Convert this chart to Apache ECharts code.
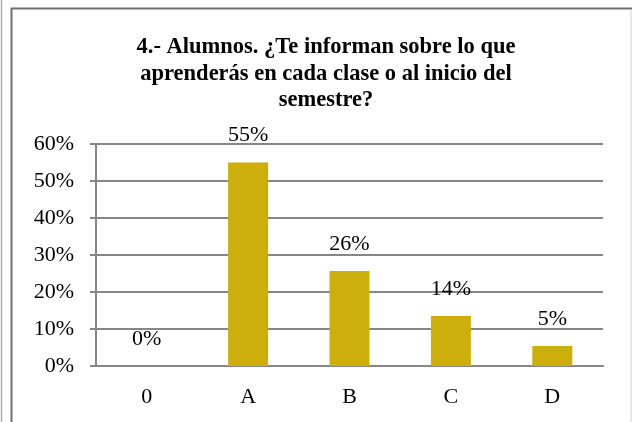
<!DOCTYPE html>
<html lang="es" style="height: 100%">
<head>
  <meta charset="UTF-8">
  <title>Alumnos bar</title>
</head>
<body style="height: 100%; margin: 0; background: #fff">
<div id="container" style="width: 632px; height: 422px"></div>
<script type="text/javascript" src="https://cdn.jsdelivr.net/npm/echarts@6/dist/echarts.min.js"></script>
<script type="text/javascript">
  var categories = ['0', 'A', 'B', 'C', 'D'];
  var values = [0, 55, 25.7, 13.5, 5.4];
  var valueLabels = ['0%', '55%', '26%', '14%', '5%'];
  var titleText = '4.- Alumnos. ¿Te informan sobre lo que\naprenderás en cada clase o al inicio del\nsemestre?';

  var serif = '"Liberation Serif", "DejaVu Serif", serif';
  var dom = document.getElementById('container');
  var myChart = echarts.init(dom, null, { renderer: 'canvas' });

  var option = {
    animation: false,
    title: {
      text: titleText,
      left: 321,
      top: 29,
      textAlign: 'center',
      textStyle: {
        fontFamily: serif,
        fontWeight: 'bold',
        fontSize: 22.5,
        lineHeight: 26.5,
        color: '#000'
      }
    },
    grid: { left: 96, right: 29, top: 144, bottom: 56 },
    xAxis: {
      type: 'category',
      data: categories,
      axisLine: { lineStyle: { color: '#868686', width: 2 } },
      axisTick: { length: 5, lineStyle: { color: '#868686', width: 2 } },
      axisLabel: { fontFamily: serif, fontSize: 22, color: '#000', margin: 20 }
    },
    yAxis: {
      type: 'value',
      min: 0,
      max: 60,
      interval: 10,
      axisLine: { show: true, lineStyle: { color: '#868686', width: 2 } },
      axisTick: { show: true, length: 6, lineStyle: { color: '#868686', width: 2 } },
      splitLine: { lineStyle: { color: '#868686', width: 2 } },
      axisLabel: {
        fontFamily: serif, fontSize: 22, color: '#000', margin: 22,
        formatter: '{value}%'
      }
    },
    series: [{
      type: 'bar',
      data: values,
      barWidth: 40,
      itemStyle: { color: '#CCAE0D' },
      label: {
        show: true,
        position: 'top',
        distance: 16,
        fontFamily: serif,
        fontSize: 22,
        color: '#000',
        formatter: function (p) { return valueLabels[p.dataIndex]; }
      }
    }],
    graphic: [
      { type: 'line', shape: { x1: 1.5, y1: 0, x2: 1.5, y2: 422 }, style: { stroke: '#b0b0b0', lineWidth: 1.5 } },
      { type: 'line', shape: { x1: 11.5, y1: 8, x2: 11.5, y2: 422 }, style: { stroke: '#707070', lineWidth: 2 } },
      { type: 'line', shape: { x1: 11, y1: 8.5, x2: 632, y2: 8.5 }, style: { stroke: '#707070', lineWidth: 2 } },
      { type: 'line', shape: { x1: 631, y1: 10, x2: 631, y2: 422 }, style: { stroke: '#d0d0d0', lineWidth: 1 } }
    ]
  };
  myChart.setOption(option);

  window.addEventListener('resize', myChart.resize);
</script>
</body>
</html>
